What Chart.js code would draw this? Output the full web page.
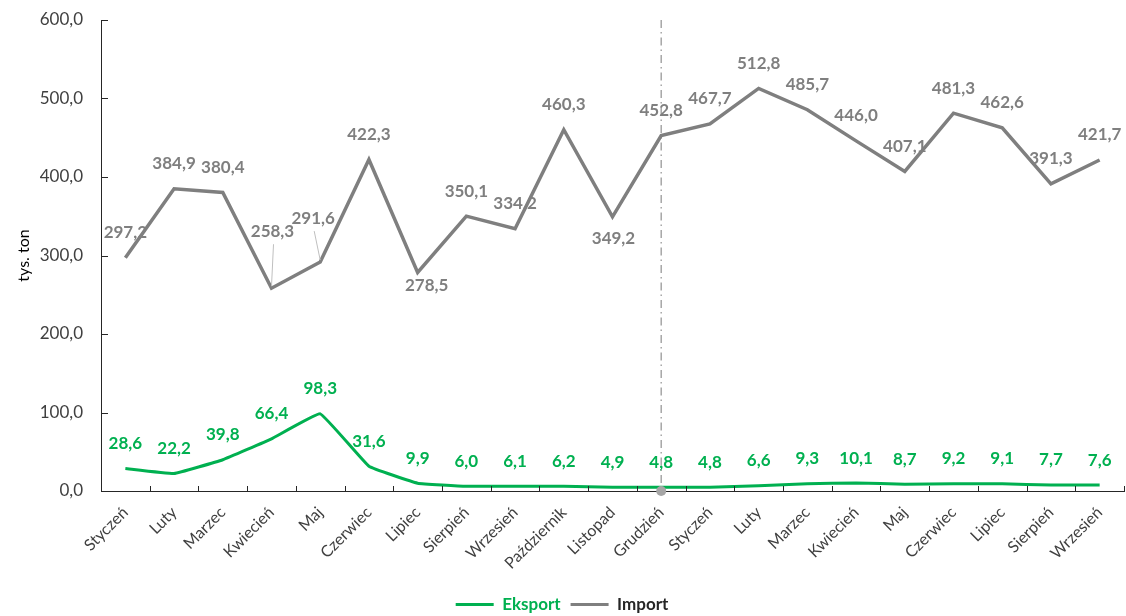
<!DOCTYPE html>
<html lang="pl">
<head>
<meta charset="UTF-8">
<title>Eksport i import</title>
<script src="https://cdn.jsdelivr.net/npm/chart.js"></script>
<style>
  html, body { margin: 0; padding: 0; background: #fff; }
  #wrap { width: 1126px; height: 616px; }
</style>
</head>
<body>
<div id="wrap"><canvas id="tradeChart" width="1126" height="616"></canvas></div>
<script>
// miesiące: styczeń poprzedniego roku .. wrzesień bieżącego
var months = ['Styczeń', 'Luty', 'Marzec', 'Kwiecień', 'Maj', 'Czerwiec', 'Lipiec', 'Sierpień',
  'Wrzesień', 'Październik', 'Listopad', 'Grudzień', 'Styczeń', 'Luty', 'Marzec', 'Kwiecień',
  'Maj', 'Czerwiec', 'Lipiec', 'Sierpień', 'Wrzesień'];
var eksport = [28.6, 22.2, 39.8, 66.4, 98.3, 31.6, 9.9, 6.0, 6.1, 6.2, 4.9, 4.8,
  4.8, 6.6, 9.3, 10.1, 8.7, 9.2, 9.1, 7.7, 7.6];
var importTon = [297.2, 384.9, 380.4, 258.3, 291.6, 422.3, 278.5, 350.1, 334.2, 460.3, 349.2, 452.8,
  467.7, 512.8, 485.7, 446.0, 407.1, 481.3, 462.6, 391.3, 421.7];
var yTicks = [0, 100, 200, 300, 400, 500, 600];
var yearBreak = 11; // grudzień - koniec roku

var GREEN = '#00b050';
var GREY = '#7f7f7f';
var AXIS = '#262626';
var TEXT = '#404040';
var FONT = 'Lato, "Open Sans", sans-serif';

function fmt(v) { return v.toFixed(1).replace('.', ','); }

// przesunięcia etykiet, które nie stoją nad punktem: [dx, dy, linia odniesienia]
var importLabelPlacement = { 3: [1, -57, true], 4: [-7, -44, true], 6: [9, 13], 10: [1, 22] };

var valueLabels = {
  id: 'valueLabels',
  afterDatasetsDraw: function (chart) {
    var ctx = chart.ctx;
    ctx.save();
    ctx.font = 'bold 17px ' + FONT;
    ctx.textAlign = 'center';
    ctx.textBaseline = 'middle';
    chart.data.datasets.forEach(function (ds, di) {
      var meta = chart.getDatasetMeta(di);
      var placement = ds.label === 'Import' ? importLabelPlacement : {};
      meta.data.forEach(function (pt, i) {
        var p = placement[i] || [0, -25];
        var x = pt.x + p[0], y = pt.y + p[1];
        if (p[2]) {
          ctx.strokeStyle = '#bfbfbf';
          ctx.lineWidth = 1;
          ctx.beginPath();
          ctx.moveTo(x + 1, y + 13);
          ctx.lineTo(pt.x, pt.y - 2);
          ctx.stroke();
        }
        ctx.fillStyle = ds.borderColor;
        ctx.fillText(fmt(ds.data[i]), x, y);
      });
    });
    ctx.restore();
  }
};

// znaczniki osi skierowane do wnętrza wykresu
var innerTicks = {
  id: 'innerTicks',
  afterDraw: function (chart) {
    var ctx = chart.ctx, area = chart.chartArea;
    var y = chart.scales.y, n = chart.data.labels.length;
    ctx.save();
    ctx.strokeStyle = AXIS;
    ctx.lineWidth = 1;
    ctx.beginPath();
    yTicks.forEach(function (v) {
      var py = Math.round(y.getPixelForValue(v)) + 0.5;
      ctx.moveTo(area.left, py);
      ctx.lineTo(area.left + 7, py);
    });
    for (var k = 1; k <= n; k++) {
      var px = Math.round(area.left + k * area.width / n) + 0.5;
      ctx.moveTo(px, area.bottom);
      ctx.lineTo(px, area.bottom - 5);
    }
    ctx.stroke();
    ctx.restore();
  }
};

// pionowa linia oddzielająca lata + kropka na osi
var yearSeparator = {
  id: 'yearSeparator',
  beforeDatasetsDraw: function (chart) {
    var ctx = chart.ctx, area = chart.chartArea;
    var x = chart.scales.x.getPixelForValue(yearBreak);
    ctx.save();
    ctx.strokeStyle = '#a6a6a6';
    ctx.lineWidth = 1.5;
    ctx.setLineDash([8, 4, 1.5, 4]);
    ctx.beginPath();
    ctx.moveTo(x, area.top);
    ctx.lineTo(x, area.bottom);
    ctx.stroke();
    ctx.restore();
  },
  afterDraw: function (chart) {
    var ctx = chart.ctx, area = chart.chartArea;
    var x = chart.scales.x.getPixelForValue(yearBreak);
    ctx.save();
    ctx.fillStyle = '#a6a6a6';
    ctx.beginPath();
    ctx.arc(x, area.bottom, 5, 0, Math.PI * 2);
    ctx.fill();
    ctx.restore();
  }
};

// legenda trochę niżej, przy samej krawędzi
var legendNudge = {
  id: 'legendNudge',
  afterLayout: function (chart) {
    if (chart.legend) {
      chart.legend.top += 7;
      chart.legend.bottom += 7;
    }
  }
};

var ctx = document.getElementById('tradeChart').getContext('2d');
var tradeChart = new Chart(ctx, {
  type: 'line',
  data: {
    labels: months,
    datasets: [{
      label: 'Eksport',
      data: eksport,
      borderColor: GREEN,
      backgroundColor: GREEN,
      borderWidth: 3,
      tension: 0.08,
      pointRadius: 0,
      fill: false
    }, {
      label: 'Import',
      data: importTon,
      borderColor: GREY,
      backgroundColor: GREY,
      borderWidth: 3.5,
      tension: 0,
      pointRadius: 0,
      fill: false
    }]
  },
  options: {
    responsive: false,
    animation: false,
    devicePixelRatio: 1,
    layout: { padding: { top: 20, right: 2, left: 0, bottom: 0 } },
    scales: {
      x: {
        offset: true,
        afterFit: function (scale) { scale.height = 88; },
        grid: { offset: true, drawOnChartArea: false, drawTicks: false },
        border: { display: true, color: AXIS, width: 1 },
        ticks: {
          autoSkip: false, minRotation: 45, maxRotation: 45, padding: 12,
          color: TEXT, font: { family: FONT, size: 16 }
        }
      },
      y: {
        min: 0, max: 600,
        afterFit: function (scale) {
          scale.width = 101;
          scale.paddingTop = 0;
          scale.paddingBottom = 0;
        },
        afterBuildTicks: function (scale) {
          scale.ticks = yTicks.map(function (v) { return { value: v }; });
        },
        grid: { drawOnChartArea: false, drawTicks: false },
        border: { display: true, color: AXIS, width: 1 },
        ticks: {
          padding: 18, color: TEXT, font: { family: FONT, size: 17 },
          callback: function (v) { return fmt(v); }
        },
        title: { display: true, text: 'tys. ton', color: '#000', font: { family: FONT, size: 16 }, padding: { top: 14, bottom: 0 } }
      }
    },
    plugins: {
      tooltip: { enabled: false },
      legend: {
        position: 'bottom',
        labels: {
          boxWidth: 38, boxHeight: 3, padding: 10,
          font: { family: FONT, size: 17, weight: 'bold' },
          generateLabels: function (chart) {
            return chart.data.datasets.map(function (ds, i) {
              return {
                text: ds.label,
                fillStyle: ds.borderColor,
                strokeStyle: ds.borderColor,
                lineWidth: 0,
                fontColor: ds.label === 'Eksport' ? GREEN : '#262626',
                datasetIndex: i
              };
            });
          }
        }
      }
    }
  },
  plugins: [yearSeparator, innerTicks, valueLabels, legendNudge]
});
</script>
</body>
</html>
